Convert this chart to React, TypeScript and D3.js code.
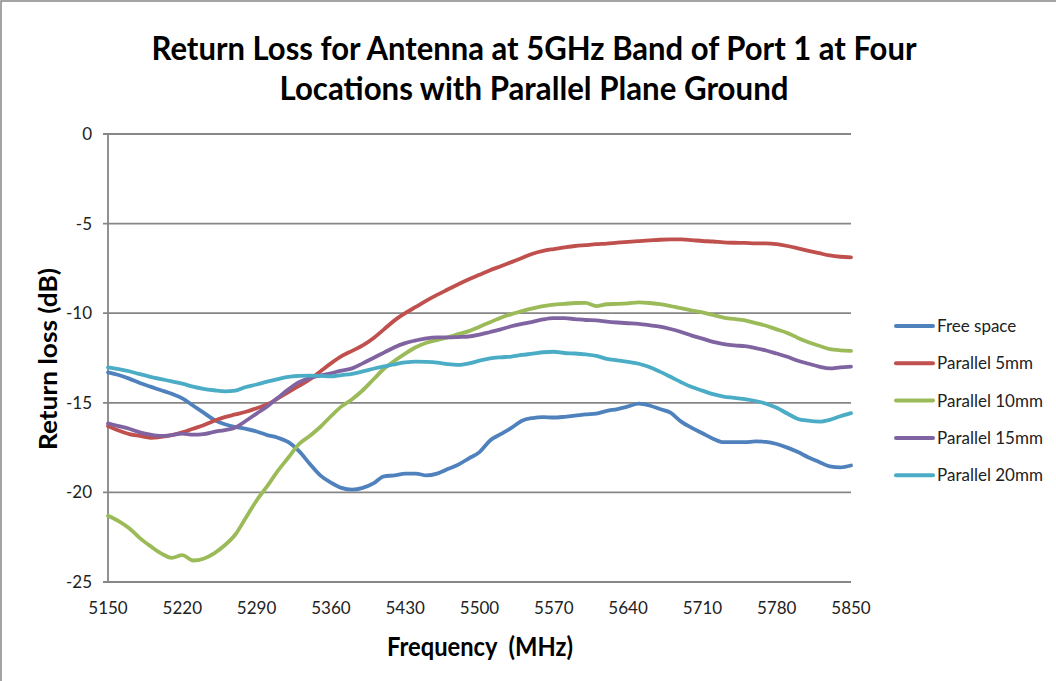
import React, { useEffect, useRef } from 'react';
import * as d3 from 'd3';

// frequency grid (MHz), 10 MHz steps
const freqs = d3.range(5150, 5851, 10);

const seriesNames = ['Free space', 'Parallel 5mm', 'Parallel 10mm', 'Parallel 15mm', 'Parallel 20mm'];
const seriesColors = ['#4F81BD', '#C0504D', '#9BBB59', '#8064A2', '#4BACC6'];

const freeSpace = [
  -13.3, -13.45, -13.65, -13.9, -14.1, -14.3, -14.5, -14.75, -15.15, -15.55,
  -15.95, -16.2, -16.35, -16.45, -16.6, -16.8, -16.95, -17.2, -17.7, -18.4,
  -19.05, -19.45, -19.75, -19.85, -19.75, -19.5, -19.1, -19.05, -18.95, -18.95,
  -19.05, -18.95, -18.7, -18.45, -18.1, -17.75, -17.1, -16.75, -16.4, -16.0,
  -15.85, -15.8, -15.82, -15.78, -15.72, -15.65, -15.6, -15.45, -15.35, -15.2,
  -15.05, -15.15, -15.35, -15.55, -16.05, -16.4, -16.7, -17.0, -17.2, -17.2,
  -17.2, -17.15, -17.18, -17.3, -17.5, -17.75, -18.05, -18.3, -18.55, -18.6,
  -18.5,
];

const parallel5 = [
  -16.3, -16.55, -16.75, -16.85, -16.95, -16.9, -16.8, -16.65, -16.45, -16.25,
  -16.0, -15.8, -15.65, -15.5, -15.3, -15.1, -14.75, -14.4, -14.05, -13.7,
  -13.25, -12.8, -12.4, -12.1, -11.8, -11.4, -10.9, -10.4, -10.0, -9.65,
  -9.3, -8.98, -8.68, -8.38, -8.1, -7.85, -7.6, -7.38, -7.15, -6.92,
  -6.68, -6.52, -6.42, -6.33, -6.25, -6.2, -6.15, -6.12, -6.06, -6.02,
  -5.98, -5.94, -5.9, -5.88, -5.88, -5.92, -5.97, -6.0, -6.05, -6.07,
  -6.08, -6.1, -6.1, -6.15, -6.25, -6.38, -6.52, -6.65, -6.78, -6.85,
  -6.88,
];

const parallel10 = [
  -21.3, -21.6, -22.0, -22.55, -23.0, -23.4, -23.65, -23.5, -23.8, -23.7,
  -23.4, -22.95, -22.35, -21.4, -20.45, -19.65, -18.8, -18.05, -17.3, -16.85,
  -16.35, -15.75, -15.2, -14.8, -14.3, -13.7, -13.1, -12.65, -12.25, -11.9,
  -11.65, -11.5, -11.35, -11.17, -11.0, -10.75, -10.5, -10.25, -10.05, -9.88,
  -9.73, -9.6, -9.52, -9.48, -9.43, -9.42, -9.6, -9.5, -9.48, -9.45,
  -9.4, -9.43, -9.5, -9.6, -9.72, -9.85, -9.95, -10.1, -10.25, -10.32,
  -10.4, -10.55, -10.7, -10.9, -11.1, -11.38, -11.62, -11.82, -12.0, -12.07,
  -12.1,
];

const parallel15 = [
  -16.15, -16.3, -16.45, -16.65, -16.78, -16.85, -16.8, -16.72, -16.78, -16.75,
  -16.62, -16.52, -16.38, -16.0, -15.6, -15.2, -14.72, -14.25, -13.85, -13.62,
  -13.48, -13.35, -13.2, -13.08, -12.8, -12.5, -12.2, -11.9, -11.67, -11.52,
  -11.4, -11.35, -11.35, -11.33, -11.3, -11.2, -11.05, -10.9, -10.73, -10.6,
  -10.48, -10.35, -10.28, -10.28, -10.33, -10.38, -10.4, -10.47, -10.52, -10.56,
  -10.6, -10.67, -10.75, -10.88, -11.05, -11.25, -11.42, -11.6, -11.72, -11.8,
  -11.84, -11.95, -12.08, -12.25, -12.43, -12.65, -12.82, -12.98, -13.08, -13.02,
  -12.98,
];

const parallel20 = [
  -13.02, -13.12, -13.24, -13.4, -13.55, -13.68, -13.8, -13.93, -14.1, -14.22,
  -14.3, -14.36, -14.32, -14.12, -13.98, -13.82, -13.68, -13.55, -13.5, -13.48,
  -13.5, -13.53, -13.45, -13.38, -13.25, -13.1, -12.97, -12.85, -12.75, -12.7,
  -12.72, -12.76, -12.84, -12.88, -12.8, -12.65, -12.52, -12.46, -12.42, -12.33,
  -12.26, -12.18, -12.15, -12.22, -12.25, -12.3, -12.38, -12.55, -12.63, -12.72,
  -12.82, -13.0, -13.26, -13.55, -13.85, -14.12, -14.32, -14.52, -14.65, -14.72,
  -14.8, -14.9, -15.05, -15.28, -15.6, -15.9, -16.0, -16.05, -15.95, -15.75,
  -15.58,
];

const seriesValues = [freeSpace, parallel5, parallel10, parallel15, parallel20];

const xTicks = [5150, 5220, 5290, 5360, 5430, 5500, 5570, 5640, 5710, 5780, 5850];
const yTicks = [0, -5, -10, -15, -20, -25];

const titleLines = ['Return Loss for Antenna at 5GHz Band of Port 1 at Four', 'Locations with Parallel Plane Ground'];

const W = 1056;
const H = 681;
const FONT = 'Lato, "Open Sans", sans-serif';

export default function App() {
  const svgRef = useRef<SVGSVGElement>(null);

  useEffect(() => {
    if (!svgRef.current) return;
    const svg = d3.select(svgRef.current);
    svg.selectAll('*').remove();

    const plot = { left: 108, right: 851, top: 134, bottom: 582 };

    // chart frame (only top / left edges visible)
    svg.append('rect')
      .attr('x', 1).attr('y', 1)
      .attr('width', W + 20).attr('height', H + 20)
      .attr('fill', '#fff')
      .attr('stroke', '#868686')
      .attr('stroke-width', 1.5);

    const x = d3.scaleLinear().domain([5150, 5850]).range([plot.left, plot.right]);
    const y = d3.scaleLinear().domain([-25, 0]).range([plot.bottom, plot.top]);

    // Title
    const titleWidths = [765, 509];
    titleLines.forEach((t, i) => {
      svg.append('text')
        .attr('x', 534)
        .attr('y', 60 + i * 40)
        .attr('text-anchor', 'middle')
        .attr('font-family', FONT)
        .attr('font-weight', 'bold')
        .attr('font-size', 32)
        .attr('textLength', titleWidths[i])
        .attr('lengthAdjust', 'spacingAndGlyphs')
        .attr('fill', '#000')
        .text(t);
    });

    // Gridlines
    svg.append('g')
      .selectAll('line')
      .data(yTicks)
      .join('line')
      .attr('x1', plot.left - 5)
      .attr('x2', plot.right)
      .attr('y1', d => y(d))
      .attr('y2', d => y(d))
      .attr('stroke', '#868686')
      .attr('stroke-width', 1.8);

    // Y axis line
    svg.append('line')
      .attr('x1', plot.left).attr('x2', plot.left)
      .attr('y1', plot.top).attr('y2', plot.bottom)
      .attr('stroke', '#868686')
      .attr('stroke-width', 1.8);

    // Y tick labels
    svg.append('g')
      .selectAll('text')
      .data(yTicks)
      .join('text')
      .attr('x', 92)
      .attr('y', d => y(d) + 6)
      .attr('text-anchor', 'end')
      .attr('font-family', FONT)
      .attr('font-size', 17)
      .attr('fill', '#222')
      .text(d => `${d}`);

    // X tick labels
    svg.append('g')
      .selectAll('text')
      .data(xTicks)
      .join('text')
      .attr('x', d => x(d))
      .attr('y', 614)
      .attr('text-anchor', 'middle')
      .attr('font-family', FONT)
      .attr('font-size', 17)
      .attr('fill', '#222')
      .text(d => `${d}`);

    // Axis titles
    svg.append('text')
      .attr('x', 480)
      .attr('y', 656)
      .attr('text-anchor', 'middle')
      .attr('font-family', FONT)
      .attr('font-weight', 'bold')
      .attr('font-size', 26)
      .attr('fill', '#000')
      .attr('textLength', 186)
      .attr('lengthAdjust', 'spacingAndGlyphs')
      .style('white-space', 'pre')
      .text('Frequency  (MHz)');

    svg.append('text')
      .attr('transform', `translate(57, 359) rotate(-90)`)
      .attr('text-anchor', 'middle')
      .attr('font-family', FONT)
      .attr('font-weight', 'bold')
      .attr('font-size', 25)
      .attr('fill', '#000')
      .attr('textLength', 182)
      .attr('lengthAdjust', 'spacingAndGlyphs')
      .text('Return loss (dB)');

    // Series lines
    const line = d3.line<number>()
      .x((_, i) => x(freqs[i]))
      .y(d => y(d))
      .curve(d3.curveMonotoneX);

    seriesValues.forEach((vals, k) => {
      svg.append('path')
        .datum(vals)
        .attr('fill', 'none')
        .attr('stroke', seriesColors[k])
        .attr('stroke-width', 3.8)
        .attr('stroke-linejoin', 'round')
        .attr('stroke-linecap', 'round')
        .attr('d', line);
    });

    // Legend
    const legend = svg.append('g').attr('transform', 'translate(896, 326)');
    seriesNames.forEach((name, k) => {
      const gy = k * 37.3;
      legend.append('line')
        .attr('x1', 0).attr('x2', 37)
        .attr('y1', gy).attr('y2', gy)
        .attr('stroke', seriesColors[k])
        .attr('stroke-width', 4)
        .attr('stroke-linecap', 'round');
      legend.append('text')
        .attr('x', 41)
        .attr('y', gy + 6)
        .attr('font-family', FONT)
        .attr('font-size', 17)
        .attr('fill', '#222')
        .text(name);
    });
  }, []);

  return (
    <svg
      ref={svgRef}
      width={W}
      height={H}
      style={{ position: 'absolute', left: 0, top: 0, background: '#fff' }}
    />
  );
}
